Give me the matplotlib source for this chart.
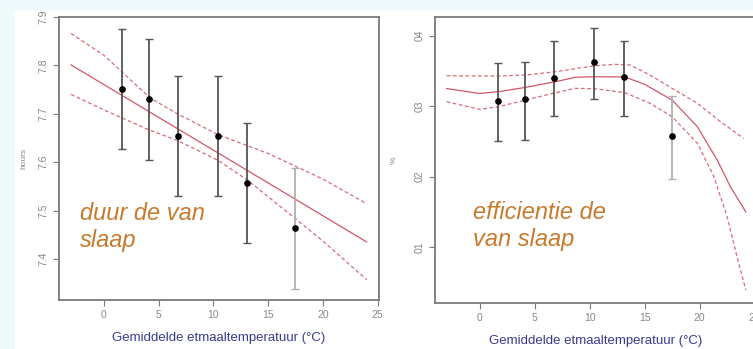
import numpy as np
import matplotlib
matplotlib.use("Agg")
import matplotlib.pyplot as plt
from matplotlib.patches import Rectangle

plt.rcParams['font.family'] = ['Liberation Sans', 'DejaVu Sans']

# temperature classes (x) shared by both panels
temp = [1.65, 4.15, 6.8, 10.4, 13.1, 17.5]

# left panel: sleep duration (hours)
dur_mean = [7.752, 7.730, 7.654, 7.654, 7.557, 7.463]
dur_low = [7.627, 7.604, 7.529, 7.529, 7.433, 7.337]
dur_high = [7.875, 7.855, 7.779, 7.779, 7.681, 7.587]

dur_fit_x = [-3, 24]
dur_fit_y = [7.801, 7.435]
dur_up_x = [-3, 0, 4.2, 6.7, 10.4, 15, 20, 24]
dur_up_y = [7.866, 7.821, 7.733, 7.70, 7.657, 7.618, 7.565, 7.514]
dur_lo_x = [-3, 0, 4.2, 6.7, 10.4, 13.1, 17.5, 20, 24]
dur_lo_y = [7.740, 7.708, 7.666, 7.645, 7.604, 7.563, 7.483, 7.437, 7.357]

# right panel: sleep efficiency
eff_mean = [0.3077, 0.3097, 0.3404, 0.3631, 0.3410, 0.2575]
eff_low = [0.2509, 0.2519, 0.2860, 0.3096, 0.2860, 0.1965]
eff_high = [0.3607, 0.3626, 0.3920, 0.4114, 0.3920, 0.3148]

eff_fit_x = [-3, 0, 1.7, 4.2, 6.9, 8.7, 10.5, 13.2, 15, 17.5, 19.8, 21.6, 22.8, 24.2]
eff_fit_y = [0.325, 0.318, 0.3205, 0.3267, 0.3347, 0.341, 0.3418, 0.3415, 0.331,
             0.3087, 0.2708, 0.2235, 0.1856, 0.150]
eff_up_x = [-3, 1.7, 4.2, 6.9, 10.5, 12.3, 13.7, 15.5, 17.5, 19.8, 21.9, 24.0]
eff_up_y = [0.3432, 0.3428, 0.3442, 0.3489, 0.3574, 0.3594, 0.3584, 0.344,
            0.3253, 0.304, 0.278, 0.2543]
eff_lo_x = [-3, 0, 1.7, 4.2, 6.9, 8.7, 10.5, 13.2, 15.5, 17.5, 19.8, 21.3, 22.5, 23.4, 24.2]
eff_lo_y = [0.3063, 0.2955, 0.2992, 0.3087, 0.3191, 0.3253, 0.3247, 0.3191, 0.304,
            0.285, 0.2472, 0.200, 0.143, 0.0862, 0.039]

x_ticks = [0, 5, 10, 15, 20, 25]
dur_ticks = [7.4, 7.5, 7.6, 7.7, 7.8, 7.9]
dur_labels = ["7.4", "7.5", "7.6", "7.7", "7.8", "7.9"]
eff_ticks = [0.1, 0.2, 0.3, 0.4]
eff_labels = ["01", "02", "03", "04"]

xlabel = "Gemiddelde etmaaltemperatuur (°C)"
line_col = '#cc3a4c'
grey = '#7a7a7a'
orange = '#c87a2c'

fig = plt.figure(figsize=(7.53, 3.49), dpi=100)
fig.patch.set_facecolor('white')
# light cyan slide background around the pasted charts
fig.patches.append(Rectangle((0, 1 - 9 / 349), 1, 9 / 349, transform=fig.transFigure,
                             color='#eef9fc', zorder=0))
fig.patches.append(Rectangle((0, 0), 13 / 753, 1, transform=fig.transFigure,
                             color='#eef9fc', zorder=0))


def style_axes(ax):
    for s in ax.spines.values():
        s.set_color(grey)
        s.set_linewidth(1.3)
    ax.tick_params(direction='out', length=4, width=0.8, colors=grey,
                   labelsize=7.5, labelcolor='#888888')
    for lab in ax.get_yticklabels():
        lab.set_rotation(90)
        lab.set_va('center')


def draw_panel(ax, mean, low, high, fx, fy, ux, uy, lx, ly):
    ax.plot(fx, fy, color=line_col, lw=0.9, alpha=0.85)
    ax.plot(ux, uy, color=line_col, lw=0.9, ls=(0, (3, 2)), alpha=0.75)
    ax.plot(lx, ly, color=line_col, lw=0.9, ls=(0, (3, 2)), alpha=0.75)
    for i in range(len(temp)):
        c = '#555555' if i < len(temp) - 1 else '#b0b0b0'
        ax.errorbar([temp[i]], [mean[i]],
                    yerr=[[mean[i] - low[i]], [high[i] - mean[i]]],
                    fmt='none', ecolor=c, elinewidth=1.3, capsize=3, capthick=1)
    ax.plot(temp, mean, 'o', color='black', ms=3.8, zorder=5)


# left panel
ax1 = fig.add_axes([59 / 753, 49 / 349, 319.7 / 753, 283 / 349])
draw_panel(ax1, dur_mean, dur_low, dur_high, dur_fit_x, dur_fit_y,
           dur_up_x, dur_up_y, dur_lo_x, dur_lo_y)
ax1.set_xlim(-4.1, 25.1)
ax1.set_ylim(7.315, 7.9)
ax1.set_xticks(x_ticks)
ax1.set_yticks(dur_ticks)
ax1.set_yticklabels(dur_labels)
style_axes(ax1)
ax1.set_ylabel("hours", fontsize=6, color='#888888', labelpad=8)
ax1.set_xlabel(xlabel, fontsize=9.5, color='#3a3a90', labelpad=8)
ax1.text(80, 349 - 247, "duur de van\nslaap", transform=None, fontsize=17,
         style='italic', color=orange, va='baseline', linespacing=1.2)

# right panel
ax2 = fig.add_axes([435.3 / 753, 46 / 349, 321.5 / 753, 286 / 349])
draw_panel(ax2, eff_mean, eff_low, eff_high, eff_fit_x, eff_fit_y,
           eff_up_x, eff_up_y, eff_lo_x, eff_lo_y)
ax2.set_xlim(-4.03, 25.2)
ax2.set_ylim(0.0205, 0.4266)
ax2.set_xticks(x_ticks)
ax2.set_yticks(eff_ticks)
ax2.set_yticklabels(eff_labels)
style_axes(ax2)
ax2.set_ylabel("%", fontsize=6, color='#888888', labelpad=12)
ax2.set_xlabel(xlabel, fontsize=9.5, color='#3a3a90', labelpad=8)
ax2.text(473, 349 - 246, "efficientie de\nvan slaap", transform=None, fontsize=17,
         style='italic', color=orange, va='baseline', linespacing=1.2)

fig.savefig("out.png", dpi=100)
